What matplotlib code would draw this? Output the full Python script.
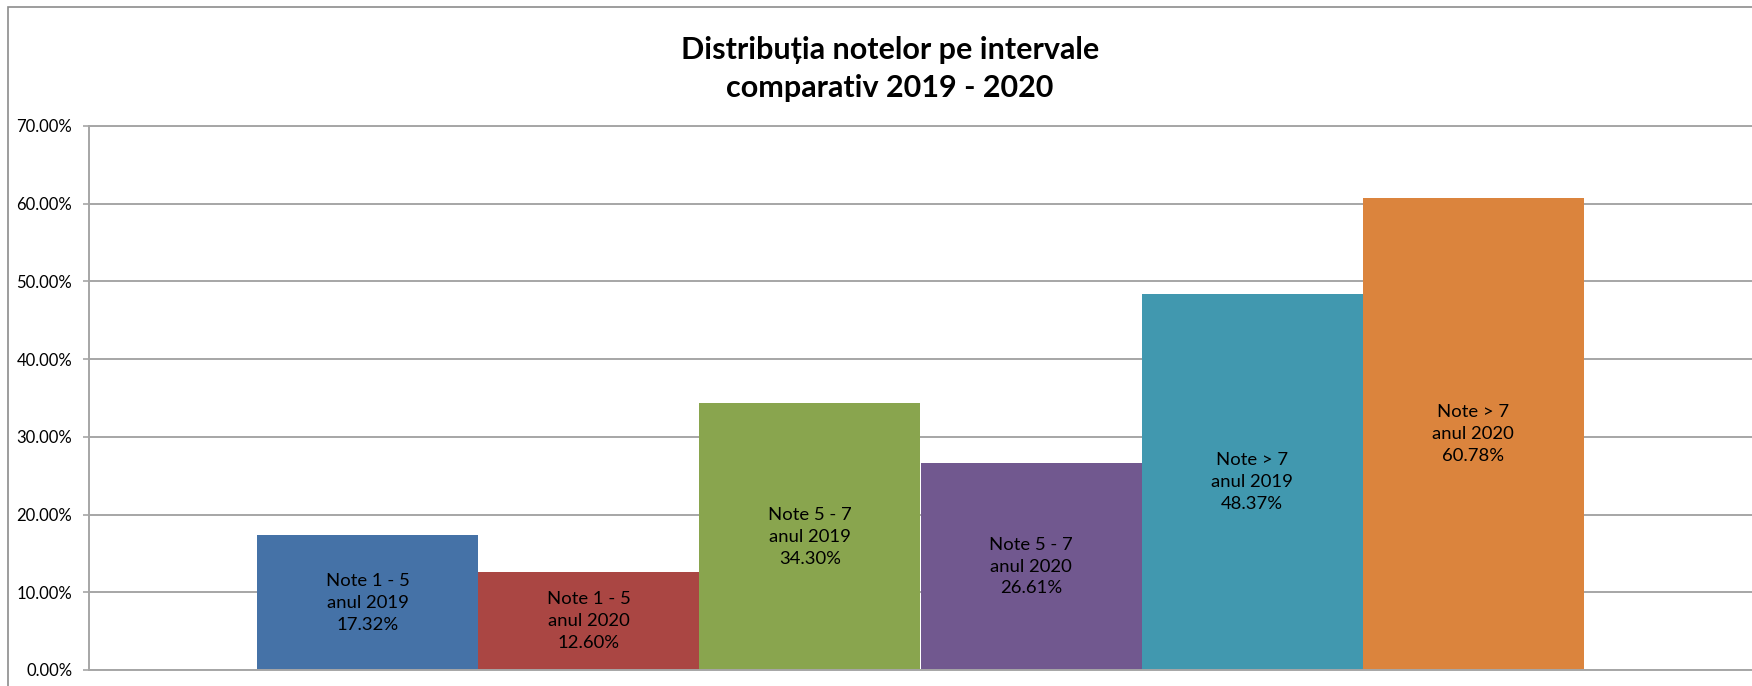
import matplotlib
matplotlib.use("Agg")
import matplotlib.pyplot as plt
from matplotlib.patches import Rectangle
from matplotlib.ticker import FuncFormatter

plt.rcParams['font.family'] = ['Lato', 'DejaVu Sans']

# data
intervals = ["Note 1 - 5", "Note 1 - 5", "Note 5 - 7", "Note 5 - 7", "Note > 7", "Note > 7"]
years = ["anul 2019", "anul 2020", "anul 2019", "anul 2020", "anul 2019", "anul 2020"]
shares = [17.32, 12.60, 34.30, 26.61, 48.37, 60.78]
bar_colors = ["#4572A7", "#AA4643", "#89A54E", "#71588F", "#4198AF", "#DB843D"]
y_ticks = [0, 10, 20, 30, 40, 50, 60, 70]

fig = plt.figure(figsize=(17.52, 6.86), dpi=100)
ax = fig.add_axes([89 / 1752, 16 / 686, 1 - 89 / 1752, 544 / 686])

xs = list(range(len(shares)))
ax.bar(xs, shares, width=1.0, color=bar_colors, zorder=2)

for x, lab, yr, v in zip(xs, intervals, years, shares):
    ax.text(x, v / 2, f"{lab}\n{yr}\n{v:.2f}%", ha='center', va='center',
            fontsize=13.3, color='black', linespacing=1.45, zorder=3)

ax.set_xlim(-1.26, 6.26)
ax.set_ylim(0, 70)
ax.set_yticks(y_ticks)
ax.yaxis.set_major_formatter(FuncFormatter(lambda v, _: f"{v:.2f}%"))
ax.set_xticks([])
ax.grid(axis='y', color='#a6a6a6', linewidth=1.4, zorder=0)
ax.set_axisbelow(True)
for s in ('top', 'right'):
    ax.spines[s].set_visible(False)
ax.spines['left'].set_color('#a6a6a6')
ax.spines['left'].set_linewidth(1.4)
ax.spines['bottom'].set_color('#a6a6a6')
ax.spines['bottom'].set_linewidth(1.4)
ax.tick_params(axis='y', length=4, width=1.2, color='#a6a6a6', pad=8,
               labelsize=12, labelcolor='black')
ax.axhline(70, color='#a6a6a6', linewidth=1.4, clip_on=False, zorder=0)

# outer chart border
fig.patches.append(Rectangle((8 / 1752, -0.05), 1.1, 1 - 7 / 686 + 0.05,
                             transform=fig.transFigure, fill=False,
                             edgecolor='#8c8c8c', linewidth=1.2))

title_x = 890 / 1752
fig.text(title_x, 1 - 50 / 686, "Distribuția notelor pe intervale", ha='center',
         va='center', fontsize=22, fontweight='bold')
fig.text(title_x, 1 - 88 / 686, "comparativ 2019 - 2020", ha='center',
         va='center', fontsize=22, fontweight='bold')

fig.savefig("out.png", dpi=100)
